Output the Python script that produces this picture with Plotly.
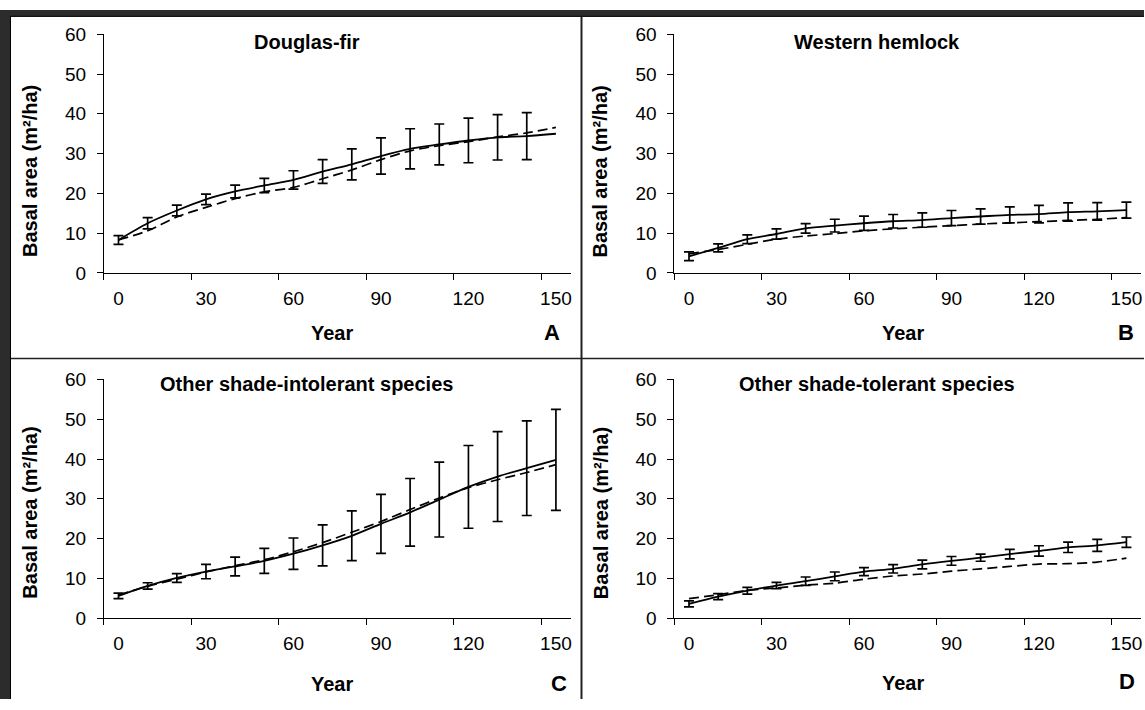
import plotly.graph_objects as go

W, H = 1145, 710

years = [0, 10, 20, 30, 40, 50, 60, 70, 80, 90, 100, 110, 120, 130, 140, 150]
tick_years = [0, 30, 60, 90, 120, 150]
tick_labels = ["0", "30", "60", "90", "120", "150"]
boundary_ticks = [-5, 25, 55, 85, 115, 145]
y_ticks = [0, 10, 20, 30, 40, 50, 60]

titles = ["Douglas-fir", "Western hemlock", "Other shade-intolerant species", "Other shade-tolerant species"]
letters = ["A", "B", "C", "D"]

# observed mean (solid) with error bars, predicted (dashed)
A_mean = [8.3, 12.5, 15.7, 18.5, 20.5, 22.0, 23.4, 25.5, 27.3, 29.4, 31.2, 32.3, 33.3, 34.1, 34.4, 35.0]
A_err = [1.1, 1.4, 1.35, 1.3, 1.6, 1.8, 2.3, 3.0, 3.9, 4.55, 5.05, 5.15, 5.6, 5.7, 5.9]
A_pred = [8.3, 10.6, 14.1, 16.5, 18.7, 20.4, 21.5, 23.7, 25.9, 28.5, 30.7, 32.0, 33.0, 34.2, 35.2, 36.6]

B_mean = [4.2, 6.3, 8.5, 9.8, 11.2, 11.9, 12.5, 13.0, 13.3, 13.8, 14.2, 14.6, 14.8, 15.3, 15.5, 15.8]
B_err = [1.1, 1.0, 1.1, 1.3, 1.2, 1.6, 1.8, 1.7, 1.8, 1.9, 1.9, 2.0, 2.2, 2.3, 2.2, 2.0]
B_pred = [4.8, 5.9, 7.2, 8.5, 9.3, 9.9, 10.6, 11.1, 11.5, 11.9, 12.3, 12.6, 12.9, 13.2, 13.5, 13.9]

C_mean = [5.6, 8.1, 10.1, 11.7, 13.0, 14.4, 16.2, 18.3, 20.7, 23.7, 26.6, 29.8, 33.0, 35.6, 37.7, 39.8]
C_err = [0.7, 0.8, 1.1, 1.8, 2.35, 3.15, 3.95, 5.15, 6.25, 7.4, 8.5, 9.4, 10.4, 11.3, 11.9, 12.7]
C_pred = [5.8, 8.0, 9.8, 11.6, 13.2, 14.7, 16.7, 19.0, 21.6, 24.3, 27.3, 30.2, 32.8, 34.8, 36.6, 38.6]

D_mean = [3.6, 5.4, 6.9, 8.2, 9.3, 10.5, 11.7, 12.4, 13.5, 14.4, 15.2, 16.1, 16.9, 17.8, 18.3, 19.1]
D_err = [0.75, 0.75, 0.85, 0.8, 1.05, 1.1, 1.0, 1.05, 1.1, 1.1, 0.9, 1.2, 1.3, 1.3, 1.5, 1.3]
D_pred = [4.9, 5.9, 7.0, 7.6, 8.3, 8.8, 9.8, 10.6, 11.1, 11.8, 12.4, 13.0, 13.6, 13.7, 14.1, 15.1]

panels = [(A_mean, A_err, A_pred), (B_mean, B_err, B_pred), (C_mean, C_err, C_pred), (D_mean, D_err, D_pred)]

FONT = "Liberation Sans, Arial, sans-serif"
TICK_SIZE = 19
BOLD_SIZE = 20

def px(x):
    return x / W

def py(y):
    return 1 - y / H

# plot-area pixel boxes (left, right, top, bottom)
boxes = [(104, 571, 25, 271), (675, 1142, 25, 271), (104, 571, 380.7, 626.7), (675, 1142, 380.7, 626.7)]

fig = go.Figure()
layout = dict(
    width=W, height=H, margin=dict(l=0, r=0, t=0, b=0),
    paper_bgcolor="white", plot_bgcolor="white", showlegend=False,
    font=dict(family=FONT, color="black"),
)

for i, (mean, err, pred) in enumerate(panels):
    sfx = "" if i == 0 else str(i + 1)
    xa, ya = "x" + sfx, "y" + sfx
    n = len(err)
    fig.add_trace(go.Scatter(x=years, y=pred, mode="lines", xaxis=xa, yaxis=ya,
                             line=dict(color="black", width=1.7, dash="10px,5px", shape="spline", smoothing=0.8),
                             hoverinfo="skip"))
    fig.add_trace(go.Scatter(x=years, y=mean, mode="lines", xaxis=xa, yaxis=ya,
                             line=dict(color="black", width=1.8, shape="spline", smoothing=0.8),
                             hoverinfo="skip"))
    fig.add_trace(go.Scatter(x=years[:n], y=mean[:n], mode="markers", xaxis=xa, yaxis=ya,
                             marker=dict(size=1, color="rgba(0,0,0,0)"),
                             error_y=dict(type="data", array=err, color="black", thickness=1.7, width=5),
                             hoverinfo="skip"))
    l, r, t, b = boxes[i]
    layout["xaxis" + sfx] = dict(
        domain=[px(l), px(r)], anchor=ya, range=[-5, 155],
        tickmode="array", tickvals=tick_years, ticktext=tick_labels,
        ticks="outside", ticklen=8, tickcolor="rgba(0,0,0,0)",
        minor=dict(tickmode="array", tickvals=boundary_ticks, ticks="outside", ticklen=6,
                   tickcolor="black", tickwidth=1, showgrid=False),
        showline=True, linecolor="black", linewidth=1, showgrid=False, zeroline=False,
        tickfont=dict(family=FONT, size=TICK_SIZE, color="black"),
    )
    layout["yaxis" + sfx] = dict(
        domain=[py(b), py(t)], anchor=xa, range=[0, 60],
        tickmode="array", tickvals=y_ticks, ticks="outside", ticklen=6, tickcolor="black",
        ticklabelstandoff=7,
        showline=True, linecolor="black", linewidth=1, showgrid=False, zeroline=False,
        tickfont=dict(family=FONT, size=TICK_SIZE, color="black"),
    )

fig.update_layout(**layout)

ann = []
title_pos = [(307, 33), (878, 33), (307, 385), (878, 385)]
year_pos = [(332, 333), (904, 333), (332, 695), (904, 693)]
letter_pos = [(552, 332), (1127, 332), (559, 694), (1128, 692)]
ytitle_pos = [(30, 166), (601, 166), (30, 518), (601, 518)]
for i in range(4):
    ann.append(dict(x=px(title_pos[i][0]), y=py(title_pos[i][1]), xref="paper", yref="paper",
                    text="<b>%s</b>" % titles[i], showarrow=False, font=dict(size=BOLD_SIZE, family=FONT),
                    xanchor="center", yanchor="middle"))
    ann.append(dict(x=px(year_pos[i][0]), y=py(year_pos[i][1]), xref="paper", yref="paper",
                    text="<b>Year</b>", showarrow=False, font=dict(size=BOLD_SIZE, family=FONT),
                    xanchor="center", yanchor="middle"))
    ann.append(dict(x=px(letter_pos[i][0]), y=py(letter_pos[i][1]), xref="paper", yref="paper",
                    text="<b>%s</b>" % letters[i], showarrow=False, font=dict(size=22, family=FONT),
                    xanchor="center", yanchor="middle"))
    ann.append(dict(x=px(ytitle_pos[i][0]), y=py(ytitle_pos[i][1]), xref="paper", yref="paper",
                    text="<b>Basal area (m²/ha)</b>", showarrow=False, textangle=-90,
                    font=dict(size=BOLD_SIZE, family=FONT), xanchor="center", yanchor="middle"))

shapes = [
    # dark frame left and top
    dict(type="rect", xref="paper", yref="paper", x0=0, x1=px(11), y0=0, y1=1,
         fillcolor="#2c2c2c", line=dict(width=0), layer="above"),
    dict(type="rect", xref="paper", yref="paper", x0=0, x1=1, y0=py(7), y1=1,
         fillcolor="#2c2c2c", line=dict(width=0), layer="above"),
    dict(type="line", xref="paper", yref="paper", x0=px(10.5), x1=px(10.5), y0=0, y1=py(6.5),
         line=dict(color="black", width=1), layer="above"),
    dict(type="line", xref="paper", yref="paper", x0=px(10.5), x1=1, y0=py(6.5), y1=py(6.5),
         line=dict(color="black", width=1), layer="above"),
    # panel dividers
    dict(type="line", xref="paper", yref="paper", x0=px(582), x1=px(582), y0=0, y1=py(7),
         line=dict(color="#222222", width=2), layer="above"),
    dict(type="line", xref="paper", yref="paper", x0=px(11), x1=1, y0=py(359), y1=py(359),
         line=dict(color="#222222", width=1.5), layer="above"),
]
fig.update_layout(annotations=ann, shapes=shapes)

fig.write_html("out.html")
